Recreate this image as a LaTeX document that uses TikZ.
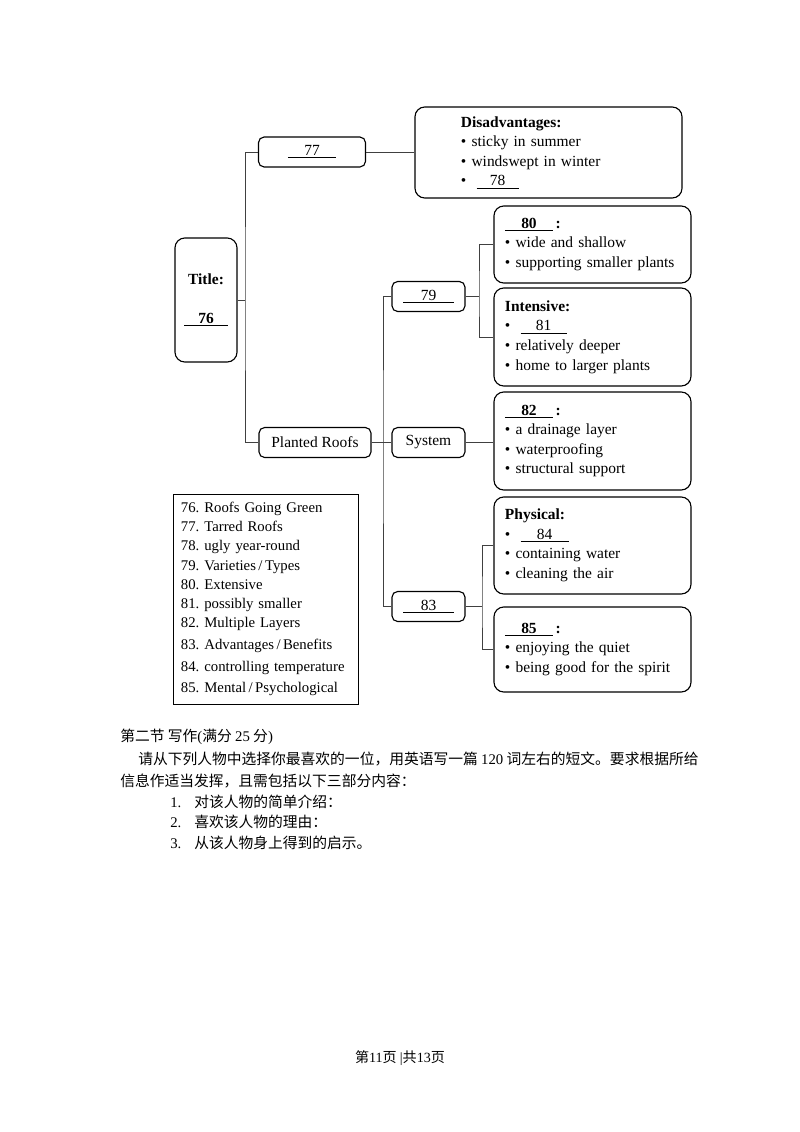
\documentclass[tikz,border=0pt]{standalone}
\usepackage{fontspec}
\setmainfont{Liberation Serif}
\newfontfamily\cjk{Noto Sans CJK SC}
\newcommand{\blank}[2]{\underline{\makebox[#1]{#2}}}

\begin{document}
\begin{tikzpicture}[x=0.025cm, y=-0.025cm,
    tag/.style={draw, rounded corners=4pt, line width=0.8pt, minimum height=0.75cm, inner sep=0pt, font=\fontsize{11}{13.9}\selectfont},
    panel/.style={draw, rounded corners=7pt, line width=0.8pt, minimum width=4.925cm, text width=4.375cm, inner xsep=0.275cm, align=left, font=\fontsize{11}{13.9}\selectfont},
    link/.style={line width=0.6pt, black!75},
    cn/.style={anchor=west, inner sep=0pt, font=\cjk\fontsize{10.5}{14}\selectfont}
]
\useasboundingbox (0,0) rectangle (800,1132);
\fill[white] (0,0) rectangle (800,1132);

% left side
\node[draw, rounded corners=7pt, line width=0.8pt, minimum width=1.55cm, minimum height=3.1cm, align=center, font=\bfseries\fontsize{11}{13.9}\selectfont] (title) at (206,300) {Title:\\[14pt]\blank{1.075cm}{76}};
\node[tag, minimum width=2.675cm] (p77) at (312,152) {\blank{1.2cm}{77}};
\node[tag, minimum width=2.8cm] (planted) at (315,442.5) {Planted Roofs};
\node[panel, minimum width=6.675cm, inner xsep=1.15cm, minimum height=2.275cm] (disadv) at (548.5,152.5) {\textbf{Disadvantages:}\\ \textbullet\ sticky in summer\\ \textbullet\ windswept in winter\\ \textbullet\ \ \blank{1.05cm}{78}};

% middle column
\node[tag, minimum width=1.825cm] (p79) at (428.5,296.5) {\blank{1.25cm}{79}};
\node[tag, minimum width=1.825cm] (system) at (428.5,442.5) {System};
\node[tag, minimum width=1.825cm] (p83) at (428.5,606.5) {\blank{1.25cm}{83}};

% right column
\node[panel, minimum height=1.925cm] (b80) at (592.5,244.5) {\textbf{\blank{1.2cm}{80}\,:}\\ \textbullet\ wide and shallow\\ \textbullet\ supporting smaller plants};
\node[panel, minimum height=2.45cm] (intensive) at (592.5,337) {\textbf{Intensive:}\\ \textbullet\ \ \blank{1.15cm}{81}\\ \textbullet\ relatively deeper\\ \textbullet\ home to larger plants};
\node[panel, minimum height=2.45cm] (b82) at (592.5,441) {\textbf{\blank{1.2cm}{82}\,:}\\ \textbullet\ a drainage layer\\ \textbullet\ waterproofing\\ \textbullet\ structural support};
\node[panel, minimum height=2.425cm] (phys) at (592.5,545.5) {\textbf{Physical:}\\ \textbullet\ \ \blank{1.2cm}{84}\\ \textbullet\ containing water\\ \textbullet\ cleaning the air};
\node[panel, minimum height=2.125cm] (b85) at (592.5,649.5) {\textbf{\blank{1.2cm}{85}\,:}\\ \textbullet\ enjoying the quiet\\ \textbullet\ being good for the spirit};

% answer key
\node[draw, line width=0.6pt, minimum width=4.625cm, minimum height=5.25cm, text width=4.225cm, inner xsep=0.2cm, align=left, font=\fontsize{10.5}{13.65}\selectfont] (key) at (265.5,599) {76.\ Roofs Going Green\\ 77.\ Tarred Roofs\\ 78.\ ugly year-round\\ 79.\ Varieties\,/\,Types\\ 80.\ Extensive\\ 81.\ possibly smaller\\ 82.\ Multiple Layers\\[1.8pt] 83.\ Advantages\,/\,Benefits\\[1.8pt] 84.\ controlling temperature\\[1.8pt] 85.\ Mental\,/\,Psychological};

% connectors
\coordinate (j1) at (245,300);
\coordinate (j2) at (383,442.5);
\coordinate (j3) at (479,296.5);
\coordinate (j4) at (482,606.5);
\draw[link] (p77.west) -| (j1) |- (planted.west);
\draw[link] (title.east) -- (j1);
\draw[link] (p77.east) -- (p77.east -| disadv.west);
\draw[link] (p79.west) -| (j2) |- (p83.west);
\draw[link] (planted.east) -- (system.west);
\draw[link] (system.east) -- (system.east -| b82.west);
\draw[link] (b80.west) -| (j3) |- (intensive.west);
\draw[link] (p79.east) -- (j3);
\draw[link] (phys.west) -| (j4) |- (b85.west);
\draw[link] (p83.east) -- (j4);

% writing task
\node[cn] (sec) at (120,737) {第二节 写作{\rmfamily(}满分 {\rmfamily 25} 分{\rmfamily)}};
\node[cn] (req1) at (138,759) {请从下列人物中选择你最喜欢的一位，用英语写一篇 {\rmfamily 120} 词左右的短文。要求根据所给};
\node[cn] (req2) at (120,781) {信息作适当发挥，且需包括以下三部分内容：};
\node[cn] (it1) at (170,802) {\makebox[0.6cm][l]{\rmfamily 1.}对该人物的简单介绍：};
\node[cn] (it2) at (170,822) {\makebox[0.6cm][l]{\rmfamily 2.}喜欢该人物的理由：};
\node[cn] (it3) at (170,843) {\makebox[0.6cm][l]{\rmfamily 3.}从该人物身上得到的启示。};
\node[cn, anchor=center, font=\cjk\fontsize{10}{12}\selectfont] (foot) at (400,1058) {第{\rmfamily 11}页 {\rmfamily|}共{\rmfamily 13}页};
\end{tikzpicture}
\end{document}
